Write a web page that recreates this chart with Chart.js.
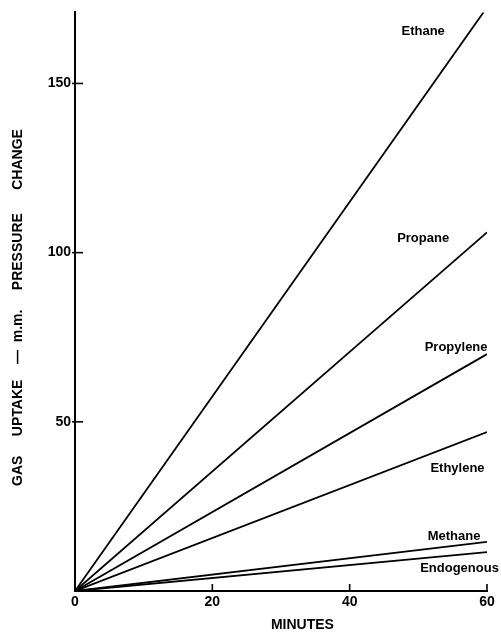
<!DOCTYPE html>
<html><head><meta charset="utf-8">
<script src="https://cdn.jsdelivr.net/npm/chart.js@4/dist/chart.umd.min.js"></script>
<style>html,body{margin:0;padding:0;background:#fff}</style>
</head><body>
<canvas id="c" width="501" height="632"></canvas>
<script>
// ---- data ----
const minutes = [0, 60];
const ethane = [0, 172.5];
const propane = [0, 106];
const propylene = [0, 70];
const ethylene = [0, 47];
const methane = [0, 14.5];
const endogenous = [0, 11.5];
const seriesNames = ['Ethane', 'Propane', 'Propylene', 'Ethylene', 'Methane', 'Endogenous'];
const xTicks = [0, 20, 40, 60];
const yTicks = [50, 100, 150];
const xTitle = '           MINUTES';
const yTitle = 'GAS     UPTAKE    —  m.m.     PRESSURE      CHANGE   ';

// label anchors in data space (minutes, uptake)
const labelX = [50.7, 50.7, 55.5, 55.7, 55.2, 56.0];
const labelY = [165.5, 104.1, 72.0, 36.3, 16.2, 6.8];

const seriesValues = [ethane, propane, propylene, ethylene, methane, endogenous];
const datasets = seriesValues.map((vals, i) => ({
  label: seriesNames[i],
  data: minutes.map((m, j) => ({x: m, y: vals[j]})),
  borderColor: '#000',
  borderWidth: 1.8,
  pointRadius: 0,
  fill: false,
  tension: 0
}));

const FONT = '"Liberation Sans", Arial, sans-serif';

const inwardTicks = {
  id: 'inwardTicks',
  afterDraw(chart) {
    const ctx = chart.ctx;
    const xs = chart.scales.x, ys = chart.scales.y;
    const x0 = xs.getPixelForValue(0), y0 = ys.getPixelForValue(0);
    ctx.save();
    ctx.strokeStyle = '#000';
    ctx.lineWidth = 1.6;
    xTicks.filter(v => v !== 0).forEach(v => {
      const px = xs.getPixelForValue(v);
      ctx.beginPath(); ctx.moveTo(px, y0); ctx.lineTo(px, y0 - 7); ctx.stroke();
    });
    yTicks.forEach(v => {
      const py = ys.getPixelForValue(v);
      ctx.beginPath(); ctx.moveTo(x0 - 3, py); ctx.lineTo(x0 + 8, py); ctx.stroke();
    });
    // series labels
    ctx.fillStyle = '#000';
    ctx.font = 'bold 13px ' + FONT;
    ctx.textAlign = 'center';
    ctx.textBaseline = 'middle';
    seriesNames.forEach((n, i) => {
      ctx.fillText(n, xs.getPixelForValue(labelX[i]), ys.getPixelForValue(labelY[i]));
    });
    ctx.restore();
  }
};

new Chart(document.getElementById('c'), {
  type: 'line',
  data: {datasets},
  options: {
    responsive: false,
    animation: false,
    events: [],
    layout: {padding: {top: 12, right: 14, left: 0, bottom: 0}},
    plugins: {legend: {display: false}, tooltip: {enabled: false}, title: {display: false}},
    scales: {
      x: {
        type: 'linear', min: 0, max: 60,
        afterBuildTicks: s => { s.ticks = xTicks.map(v => ({value: v})); },
        afterFit: s => { s.height = 41; },
        grid: {display: false, drawTicks: false},
        border: {display: true, color: '#000', width: 2},
        ticks: {color: '#000', font: {family: FONT, size: 14, weight: 'bold'}, padding: 3, maxRotation: 0},
        title: {display: true, text: xTitle, color: '#000', font: {family: FONT, size: 14, weight: 'bold', lineHeight: 1}, padding: {top: 0, bottom: 0}}
      },
      y: {
        type: 'linear', min: 0, max: 171,
        afterBuildTicks: s => { s.ticks = yTicks.map(v => ({value: v})); },
        afterFit: s => { s.width = 75; },
        grid: {display: false, drawTicks: false},
        border: {display: true, color: '#000', width: 2},
        ticks: {color: '#000', font: {family: FONT, size: 14, weight: 'bold'}, padding: 4},
        title: {display: true, text: yTitle, color: '#000', font: {family: FONT, size: 14, weight: 'bold', lineHeight: 1.2}, padding: {top: 10, bottom: 0}}
      }
    }
  },
  plugins: [inwardTicks]
});
</script>
</body></html>
